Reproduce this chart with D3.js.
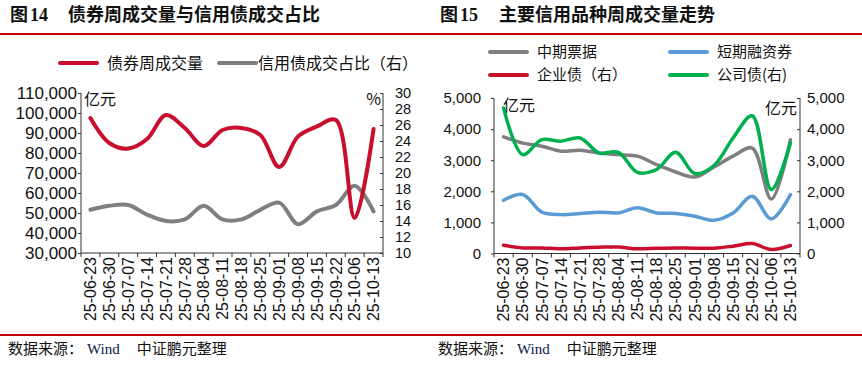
<!DOCTYPE html>
<html><head><meta charset="utf-8">
<script src="https://cdn.jsdelivr.net/npm/d3@7"></script>
<style>
html,body{margin:0;padding:0;background:#fff;}
svg{display:block;}
text{font-family:"Liberation Sans",Arial,"Noto Sans CJK SC",sans-serif;}
</style>
</head><body>
<svg id="c" width="862" height="365"></svg>
<script>
// ---------- data ----------
const dates = ["25-06-23","25-06-30","25-07-07","25-07-14","25-07-21","25-07-28","25-08-04","25-08-11","25-08-18","25-08-25","25-09-01","25-09-08","25-09-15","25-09-22","25-10-06","25-10-13"];
// Figure 14
const bondVolume = [97500,85000,82200,87000,99000,92500,83500,91500,92500,89000,73000,88300,93300,96500,47500,92000];
const creditShare = [15.4,15.9,16.0,14.8,14.0,14.2,15.9,14.2,14.2,15.4,16.3,13.6,15.2,16.0,18.4,15.2];
const leftTicks14 = [30000,40000,50000,60000,70000,80000,90000,100000,110000];
const rightTicks14 = [10,12,14,16,18,20,22,24,26,28,30];
// Figure 15
const mtn = [3750,3550,3450,3290,3320,3230,3180,3130,2860,2620,2460,2780,3130,3390,1750,3660];
const cp = [1710,1895,1330,1250,1285,1330,1305,1470,1305,1285,1200,1070,1305,1840,1110,1895];
const entBond = [265,180,180,150,180,200,210,150,170,180,170,170,235,320,130,257];
const corpBond = [4680,3180,3660,3610,3715,3230,3255,2610,2700,3255,2570,2830,3715,4430,2055,3555];
const ticks15 = [0,1000,2000,3000,4000,5000];

const RED = "#c8102e", GRAY = "#7f7f7f", BLUE = "#5b9bd5", GREEN = "#00b050";
const svg = d3.select("#c");
const fmt = d3.format(",");

// header / footer rules
svg.append("line").attr("x1",0).attr("x2",862).attr("y1",34).attr("y2",34).attr("stroke","#c00000").attr("stroke-width",2);
svg.append("line").attr("x1",0).attr("x2",862).attr("y1",335).attr("y2",335).attr("stroke","#c00000").attr("stroke-width",2);

function title(x, num, txt, tx){
  svg.append("text").attr("x",x).attr("y",21).attr("font-size",18).attr("font-weight","bold")
    .style("font-family",'"Noto Sans CJK SC",serif').attr("fill","#111").text("图");
  svg.append("text").attr("x",x+20).attr("y",21).attr("font-size",18).attr("font-weight","bold")
    .style("font-family",'"Liberation Serif","Times New Roman",serif').attr("fill","#111").text(num);
  svg.append("text").attr("x",tx).attr("y",21).attr("font-size",18).attr("font-weight","bold")
    .style("font-family",'"Noto Sans CJK SC",serif').attr("fill","#111").text(txt);
}
title(10,"14","债券周成交量与信用债成交占比",68);
title(440,"15","主要信用品种周成交量走势",499);

function source(x){
  const t = svg.append("text").attr("x",x).attr("y",354).attr("font-size",15).attr("fill","#111")
    .style("font-family",'"Noto Sans CJK SC",sans-serif');
  t.append("tspan").text("数据来源：");
  t.append("tspan").style("font-family",'"Liberation Serif","Times New Roman",serif').attr("fill","#0a1a4a").attr("dx",4).text("Wind");
  t.append("tspan").attr("dx",17).text("中证鹏元整理");
}
source(8); source(438);

function legendItem(x, y, color, label, gap, fs){
  svg.append("line").attr("x1",x).attr("x2",x+37).attr("y1",y).attr("y2",y).attr("stroke",color).attr("stroke-width",4).attr("stroke-linecap","round");
  svg.append("text").attr("x",x+(gap||47)).attr("y",y).attr("dy","0.36em").attr("font-size",fs||16).attr("fill","#111")
    .style("font-family",'"Noto Sans CJK SC",sans-serif').text(label);
}
legendItem(60,63,RED,"债券周成交量");
legendItem(219,63,GRAY,"信用债成交占比（右）",39);
legendItem(490,52,GRAY,"中期票据",47,15);
legendItem(670,52,BLUE,"短期融资券",47,15);
legendItem(490,75,RED,"企业债（右）",47,15);
legendItem(670,75,GREEN,"公司债(右)",47,15);

function chart(opt){
  const g = svg.append("g");
  const x = d3.scaleBand().domain(dates).range([opt.x0,opt.x1]).padding(0);
  const yL = d3.scaleLinear().domain(opt.lDom).range([opt.yB,opt.yT]);
  const yR = d3.scaleLinear().domain(opt.rDom).range([opt.yB,opt.yT]);
  const axisColor = "#333";
  const la = g.append("g").attr("transform",`translate(${opt.x0},0)`)
    .call(d3.axisLeft(yL).tickValues(opt.lTicks).tickFormat(opt.lFmt).tickSize(3).tickPadding(opt.lPad));
  const ra = g.append("g").attr("transform",`translate(${opt.x1},0)`)
    .call(d3.axisRight(yR).tickValues(opt.rTicks).tickFormat(opt.rFmt).tickSize(-3).tickPadding(opt.rPad));
  la.selectAll(".tick text").attr("font-size",opt.fsL);
  ra.selectAll(".tick text").attr("font-size",opt.fsR);
  [la,ra].forEach(a=>{
    a.select(".domain").remove();
    a.selectAll(".tick line").attr("stroke",axisColor);
    a.selectAll(".tick text").attr("fill","#111").style("font-family",'"Liberation Sans",Arial,sans-serif');
  });
  g.append("line").attr("x1",opt.x0).attr("x2",opt.x0).attr("y1",opt.yT).attr("y2",opt.yB).attr("stroke",axisColor);
  g.append("line").attr("x1",opt.x1).attr("x2",opt.x1).attr("y1",opt.yT).attr("y2",opt.yB).attr("stroke",axisColor);
  g.append("line").attr("x1",opt.x0).attr("x2",opt.x1).attr("y1",opt.yB).attr("y2",opt.yB).attr("stroke",axisColor);
  dates.forEach((d,i)=>{
    g.append("line").attr("x1",x(d)+x.bandwidth()).attr("x2",x(d)+x.bandwidth()).attr("y1",opt.yB).attr("y2",opt.yB+4).attr("stroke",axisColor);
    g.append("text").attr("transform",`translate(${x(d)+x.bandwidth()/2},${opt.yB+4}) rotate(-90)`)
      .attr("text-anchor","end").attr("dy","0.36em").attr("font-size",16).attr("fill","#111")
      .style("font-family",'"Liberation Sans",Arial,sans-serif').text(d);
  });
  g.append("line").attr("x1",opt.x0).attr("x2",opt.x0).attr("y1",opt.yB).attr("y2",opt.yB+4).attr("stroke",axisColor);
  const cx = d=>x(d)+x.bandwidth()/2;
  opt.series.forEach(s=>{
    const sc = s.axis==="L"?yL:yR;
    const line = d3.line().x((v,i)=>cx(dates[i])).y(v=>sc(v)).curve(d3.curveCatmullRom.alpha(0.5));
    g.append("path").datum(s.values).attr("d",line).attr("fill","none").attr("stroke",s.color)
      .attr("stroke-width",s.w).attr("stroke-linecap","round").attr("stroke-linejoin","round");
  });
  opt.units.forEach(u=>{
    g.append("text").attr("x",u.x).attr("y",u.y).attr("dy","0.36em").attr("text-anchor",u.anchor||"start")
      .attr("font-size",u.fs||16).attr("fill","#111").style("font-family",'"Noto Sans CJK SC","Liberation Sans",sans-serif').text(u.t);
  });
}

chart({x0:81,x1:383,yT:93,yB:253,lDom:[30000,110000],rDom:[10,30],lTicks:leftTicks14,rTicks:rightTicks14,
  lFmt:fmt,rFmt:d=>d,lPad:1,rPad:12,fsL:17,fsR:14.5,
  series:[{values:creditShare,axis:"R",color:GRAY,w:4},{values:bondVolume,axis:"L",color:RED,w:4}],
  units:[{x:84,y:99,t:"亿元",fs:16},{x:381,y:99,t:"%",anchor:"end",fs:16}]});

chart({x0:494,x1:800,yT:98,yB:253.5,lDom:[0,5000],rDom:[0,5000],lTicks:ticks15,rTicks:ticks15,
  lFmt:fmt,rFmt:fmt,lPad:10,rPad:7,fsL:15,fsR:15,
  series:[{values:cp,axis:"L",color:BLUE,w:3.5},{values:mtn,axis:"L",color:GRAY,w:3.5},
          {values:entBond,axis:"R",color:RED,w:3.5},{values:corpBond,axis:"R",color:GREEN,w:3.5}],
  units:[{x:503,y:105,t:"亿元",fs:16},{x:797,y:108,t:"亿元",anchor:"end",fs:16}]});
</script>
</body></html>
